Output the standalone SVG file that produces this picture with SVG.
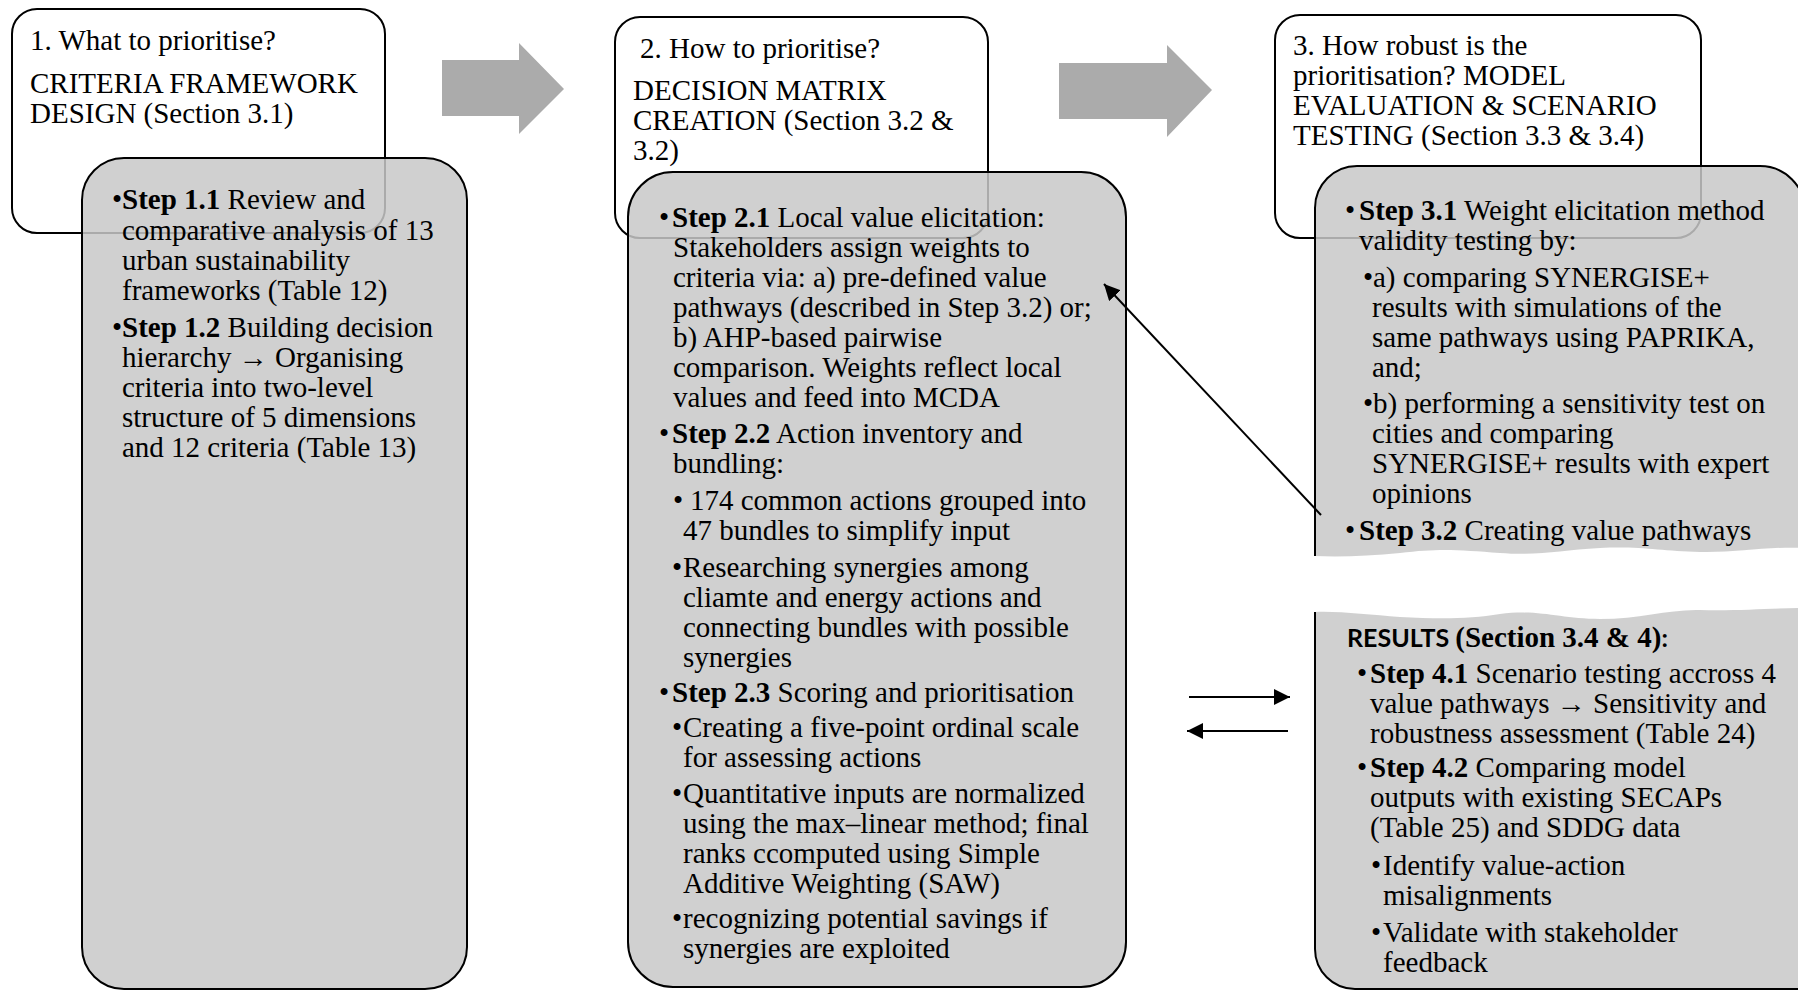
<svg xmlns="http://www.w3.org/2000/svg" width="1798" height="992" viewBox="0 0 1798 992">
  <defs>
    <style>
      .hdr { fill: #ffffff; stroke: #000000; stroke-width: 2; }
      .panel { fill: #c8c8c8; fill-opacity: 0.85; stroke: #000000; stroke-width: 2; }
      .panel-fill { fill: #c8c8c8; fill-opacity: 0.85; stroke: none; }
      .edge { fill: none; stroke: #000000; stroke-width: 2; }
      .block { fill: #ababab; }
      .link { fill: none; stroke: #000000; stroke-width: 2; }
      text { font-family: "Liberation Serif", "Times New Roman", serif; font-size: 29px; fill: #000000; }
      .b { font-weight: bold; }
      .sans { font-family: Lato, "Liberation Sans", sans-serif; font-weight: bold; font-size: 25px; }
    </style>
    <marker id="head" viewBox="0 0 16 16" markerWidth="16" markerHeight="16" refX="16" refY="8" orient="auto" markerUnits="userSpaceOnUse">
      <path d="M0,0 L16,8 L0,16 Z" fill="#000000"/>
    </marker>
  </defs>

  <!-- Column 1: criteria framework design -->
  <g id="node-what">
    <rect class="hdr" x="12" y="9" width="373" height="224" rx="25" ry="25"/>
    <text x="30" y="50">1. What to prioritise?</text>
    <text x="30" y="93">CRITERIA FRAMEWORK</text>
    <text x="30" y="123">DESIGN (Section 3.1)</text>
  </g>
  <g id="node-steps1">
    <rect class="panel" x="82" y="158" width="385" height="831" rx="42" ry="42"/>
    <text y="209"><tspan x="112">•</tspan><tspan x="122" class="b">Step 1.1</tspan> Review and</text>
    <text x="122" y="240">comparative analysis of 13</text>
    <text x="122" y="270">urban sustainability</text>
    <text x="122" y="300">frameworks (Table 12)</text>
    <text y="337"><tspan x="112">•</tspan><tspan x="122" class="b">Step 1.2</tspan> Building decision</text>
    <text x="122" y="367">hierarchy → Organising</text>
    <text x="122" y="397">criteria into two-level</text>
    <text x="122" y="427">structure of 5 dimensions</text>
    <text x="122" y="457">and 12 criteria (Table 13)</text>
  </g>

  <!-- Column 2: decision matrix creation -->
  <g id="node-how">
    <rect class="hdr" x="615" y="17" width="373" height="221" rx="25" ry="25"/>
    <text x="640" y="58">2. How to prioritise?</text>
    <text x="633" y="100">DECISION MATRIX</text>
    <text x="633" y="130">CREATION (Section 3.2 &amp;</text>
    <text x="633" y="160">3.2)</text>
  </g>
  <g id="node-steps2">
    <rect class="panel" x="628" y="172" width="498" height="815" rx="45" ry="45"/>
    <text y="227"><tspan x="659">•</tspan><tspan x="672" class="b">Step 2.1</tspan> Local value elicitation:</text>
    <text x="673" y="257">Stakeholders assign weights to</text>
    <text x="673" y="287">criteria via: a) pre-defined value</text>
    <text x="673" y="317">pathways (described in Step 3.2) or;</text>
    <text x="673" y="347">b) AHP-based pairwise</text>
    <text x="673" y="377">comparison. Weights reflect local</text>
    <text x="673" y="407">values and feed into MCDA</text>
    <text y="443"><tspan x="659">•</tspan><tspan x="672" class="b">Step 2.2</tspan> Action inventory and</text>
    <text x="673" y="473">bundling:</text>
    <text y="510"><tspan x="673">•</tspan><tspan x="690">174 common actions grouped into</tspan></text>
    <text x="683" y="540">47 bundles to simplify input</text>
    <text y="577"><tspan x="672">•</tspan><tspan x="683">Researching synergies among</tspan></text>
    <text x="683" y="607">cliamte and energy actions and</text>
    <text x="683" y="637">connecting bundles with possible</text>
    <text x="683" y="667">synergies</text>
    <text y="702"><tspan x="659">•</tspan><tspan x="672" class="b">Step 2.3</tspan> Scoring and prioritisation</text>
    <text y="737"><tspan x="672">•</tspan><tspan x="683">Creating a five-point ordinal scale</tspan></text>
    <text x="683" y="767">for assessing actions</text>
    <text y="803"><tspan x="672">•</tspan><tspan x="683">Quantitative inputs are normalized</tspan></text>
    <text x="683" y="833">using the max–linear method; final</text>
    <text x="683" y="863">ranks ccomputed using Simple</text>
    <text x="683" y="893">Additive Weighting (SAW)</text>
    <text y="928"><tspan x="672">•</tspan><tspan x="683">recognizing potential savings if</tspan></text>
    <text x="683" y="958">synergies are exploited</text>
  </g>

  <!-- Column 3: model evaluation and scenario testing -->
  <g id="node-robust">
    <rect class="hdr" x="1275" y="15" width="426" height="223" rx="25" ry="25"/>
    <text x="1293" y="55">3. How robust is the</text>
    <text x="1293" y="85">prioritisation? MODEL</text>
    <text x="1293" y="115">EVALUATION &amp; SCENARIO</text>
    <text x="1293" y="145">TESTING (Section 3.3 &amp; 3.4)</text>
  </g>
  <g id="node-steps3">
    <path class="panel-fill" d="M1315,556 L1315,208 A42,42 0 0 1 1357,166 L1760,166 A45,45 0 0 1 1805,211 L1805,548 C1770,546 1735,553 1700,552 C1660,551 1640,546 1600,548 C1560,550 1540,556 1500,553 C1460,550 1440,548 1400,553 C1370,556 1340,557 1315,556 Z"/>
    <path class="edge" d="M1315,556 L1315,208 A42,42 0 0 1 1357,166 L1760,166 A45,45 0 0 1 1805,211 L1805,556"/>
    <text y="220"><tspan x="1345">•</tspan><tspan x="1359" class="b">Step 3.1</tspan> Weight elicitation method</text>
    <text x="1359" y="250">validity testing by:</text>
    <text y="287"><tspan x="1363">•</tspan><tspan x="1373">a) comparing SYNERGISE+</tspan></text>
    <text x="1372" y="317">results with simulations of the</text>
    <text x="1372" y="347">same pathways using PAPRIKA,</text>
    <text x="1372" y="377">and;</text>
    <text y="413"><tspan x="1363">•</tspan><tspan x="1373">b) performing a sensitivity test on</tspan></text>
    <text x="1372" y="443">cities and comparing</text>
    <text x="1372" y="473">SYNERGISE+ results with expert</text>
    <text x="1372" y="503">opinions</text>
    <text y="540"><tspan x="1345">•</tspan><tspan x="1359" class="b">Step 3.2</tspan> Creating value pathways</text>
  </g>
  <g id="node-results">
    <path class="panel-fill" d="M1315,612 C1340,611 1370,615 1400,617 C1440,619 1470,619 1500,614 C1540,609 1560,619 1600,619 C1640,619 1670,609 1700,610 C1740,611 1770,608 1805,608 L1805,989 L1355,989 A40,40 0 0 1 1315,949 Z"/>
    <path class="edge" d="M1315,612 L1315,949 A40,40 0 0 0 1355,989 L1805,989"/>
    <text y="647"><tspan x="1347" class="sans">RESULTS </tspan><tspan class="b">(Section 3.4 &amp; 4)</tspan><tspan class="sans">:</tspan></text>
    <text y="683"><tspan x="1357">•</tspan><tspan x="1370" class="b">Step 4.1</tspan> Scenario testing accross 4</text>
    <text x="1370" y="713">value pathways → Sensitivity and</text>
    <text x="1370" y="743">robustness assessment (Table 24)</text>
    <text y="777"><tspan x="1357">•</tspan><tspan x="1370" class="b">Step 4.2</tspan> Comparing model</text>
    <text x="1370" y="807">outputs with existing SECAPs</text>
    <text x="1370" y="837">(Table 25) and SDDG data</text>
    <text y="875"><tspan x="1371">•</tspan><tspan x="1383">Identify value-action</tspan></text>
    <text x="1383" y="905">misalignments</text>
    <text y="942"><tspan x="1371">•</tspan><tspan x="1383">Validate with stakeholder</tspan></text>
    <text x="1383" y="972">feedback</text>
  </g>

  <!-- Connectors -->
  <g id="connectors">
    <polygon class="block" points="442,60 519,60 519,43 564,89 519,134 519,116 442,116"/>
    <polygon class="block" points="1059,63 1167,63 1167,45 1212,90 1167,137 1167,119 1059,119"/>
    <line class="link" x1="1321" y1="515" x2="1104" y2="284" marker-end="url(#head)"/>
    <line class="link" x1="1189" y1="697" x2="1290" y2="697" marker-end="url(#head)"/>
    <line class="link" x1="1288" y1="731" x2="1187" y2="731" marker-end="url(#head)"/>
  </g>
</svg>
